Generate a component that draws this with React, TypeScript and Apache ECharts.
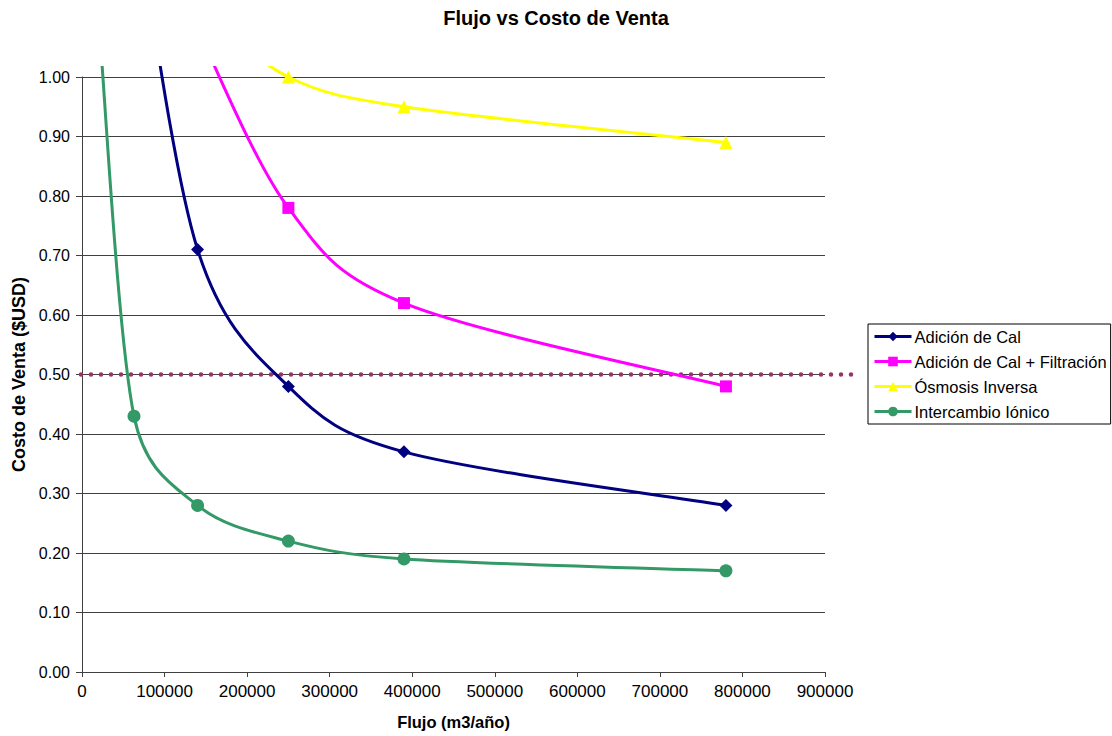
import React, { useEffect, useRef } from "react";
import * as echarts from "echarts";

// Flujo (m3/año) and costo de venta ($USD) for each treatment option
const calFlujo = [63000, 140000, 250000, 390000, 780000];
const calCosto = [1.3, 0.71, 0.48, 0.37, 0.28];

const filtFlujo = [140000, 250000, 390000, 780000];
const filtCosto = [1.08, 0.78, 0.62, 0.48];

const osmFlujo = [140000, 250000, 390000, 780000];
const osmCosto = [1.12, 1.0, 0.95, 0.89];

const ionFlujo = [20000, 63000, 140000, 250000, 390000, 780000];
const ionCosto = [1.1, 0.43, 0.28, 0.22, 0.19, 0.17];

// Reference price drawn as a dotted line
const precioReferencia = 0.5;

const seriesNames = [
  "Adición de Cal",
  "Adición de Cal + Filtración",
  "Ósmosis Inversa",
  "Intercambio Iónico",
];
const seriesColors = ["#000080", "#FF00FF", "#FFFF00", "#339966"];
const seriesSymbols = ["diamond", "rect", "triangle", "circle"];
const symbolSizes = [13, 12, 13, 13];

const FONT = "'Liberation Sans', Arial, Helvetica, sans-serif";

const pairs = (xs: number[], ys: number[]) => xs.map((x, i) => [x, ys[i]]);

// Control point leaving `p` towards `q`, tangent parallel to (next - prev),
// one sixth of its length, but never longer than half the segment p–q.
const controlPoint = (p: number[], q: number[], prev: number[], next: number[], sign: number) => {
  const vx = next[0] - prev[0];
  const vy = next[1] - prev[1];
  const vLen = Math.hypot(vx, vy);
  const seg = Math.hypot(q[0] - p[0], q[1] - p[1]);
  let f = 1 / 6;
  if (vLen > 0 && f * vLen > seg / 2) f = seg / 2 / vLen;
  return [p[0] + sign * vx * f, p[1] + sign * vy * f];
};

// Smoothed curve: one cubic segment per pair of consecutive points.
const smoothRenderer = (color: string) => (params: any, api: any) => {
  const i = params.dataIndexInside;
  const n = params.dataInsideLength;
  if (i >= n - 1) return null;
  const pt = (k: number) => {
    const kk = Math.max(0, Math.min(n - 1, k));
    return api.coord([api.value(0, kk), api.value(1, kk)]);
  };
  const p0 = pt(i - 1);
  const p1 = pt(i);
  const p2 = pt(i + 1);
  const p3 = pt(i + 2);
  const c1 = controlPoint(p1, p2, p0, p2, 1);
  const c2 = controlPoint(p2, p1, p1, p3, -1);
  return {
    type: "bezierCurve",
    silent: true,
    shape: {
      x1: p1[0],
      y1: p1[1],
      x2: p2[0],
      y2: p2[1],
      cpx1: c1[0],
      cpy1: c1[1],
      cpx2: c2[0],
      cpy2: c2[1],
    },
    style: { stroke: color, lineWidth: 3, fill: null },
  };
};

export default function App() {
  const ref = useRef<HTMLDivElement>(null);

  useEffect(() => {
    if (!ref.current) return;
    const chart = echarts.init(ref.current, undefined, { renderer: "svg" });

    const gridLeft = 82;
    const gridTop = 77;
    const gridRight = 287;
    const gridBottom = 64;

    const datasets = [
      pairs(calFlujo, calCosto),
      pairs(filtFlujo, filtCosto),
      pairs(osmFlujo, osmCosto),
      pairs(ionFlujo, ionCosto),
    ];

    const curves = datasets.map((data, k) => ({
      id: "curva" + k,
      type: "custom",
      coordinateSystem: "cartesian2d",
      data,
      encode: { x: 0, y: 1 },
      clip: false,
      silent: true,
      z: 2,
      renderItem: smoothRenderer(seriesColors[k]),
    }));

    const markers = datasets.map((data, k) => ({
      name: seriesNames[k],
      type: "line",
      data,
      clip: false,
      symbol: seriesSymbols[k],
      symbolSize: symbolSizes[k],
      showSymbol: true,
      itemStyle: { color: seriesColors[k] },
      lineStyle: { color: seriesColors[k], width: 3, opacity: 0 },
      z: 3,
    }));

    chart.setOption({
      animation: false,
      backgroundColor: "#ffffff",
      title: {
        text: "Flujo vs Costo de Venta",
        left: "center",
        top: 3,
        z: 10,
        textStyle: {
          fontFamily: FONT,
          fontWeight: "bold",
          fontSize: 20,
          color: "#000",
        },
      },
      legend: {
        orient: "vertical",
        left: 868,
        top: 324,
        padding: [4, 4, 4, 5],
        itemWidth: 37,
        itemHeight: 12,
        itemGap: 8,
        borderColor: "#000",
        borderWidth: 1,
        borderRadius: 0,
        backgroundColor: "#fff",
        data: seriesNames.map((name, k) => ({
          name,
          lineStyle: { color: seriesColors[k], width: 3, opacity: 1 },
        })),
        textStyle: { fontFamily: FONT, fontSize: 16.5, color: "#000", padding: [0, 0, 0, -2] },
      },
      grid: {
        left: gridLeft,
        top: gridTop,
        right: gridRight,
        bottom: gridBottom,
        containLabel: false,
      },
      xAxis: {
        type: "value",
        min: 0,
        max: 900000,
        interval: 100000,
        name: "Flujo (m3/año)",
        nameLocation: "middle",
        nameGap: 41,
        nameTextStyle: {
          fontFamily: FONT,
          fontWeight: "bold",
          fontSize: 16.5,
          color: "#000",
        },
        axisLine: { show: true, lineStyle: { color: "#404040", width: 1 } },
        axisTick: { show: true, length: 5, lineStyle: { color: "#404040" } },
        axisLabel: {
          fontFamily: FONT,
          fontSize: 17,
          color: "#000",
          margin: 11,
          formatter: (v: number) => String(v),
        },
        splitLine: { show: false },
      },
      yAxis: {
        type: "value",
        min: 0,
        max: 1,
        interval: 0.1,
        name: "Costo de Venta ($USD)",
        nameLocation: "middle",
        nameGap: 54,
        nameTextStyle: {
          fontFamily: FONT,
          fontWeight: "bold",
          fontSize: 18,
          color: "#000",
        },
        axisLine: { show: true, lineStyle: { color: "#404040", width: 1 } },
        axisTick: { show: true, length: 6, lineStyle: { color: "#404040" } },
        axisLabel: {
          fontFamily: FONT,
          fontSize: 16,
          color: "#000",
          margin: 12,
          formatter: (v: number) => v.toFixed(2),
        },
        splitLine: { show: true, lineStyle: { color: "#404040", width: 1 } },
      },
      series: [...curves, ...markers],
    });

    // Plot-area ceiling: curves are cut a little above the 1.00 gridline,
    // and the dotted reference price runs across the plot into the legend.
    const yRef = chart.convertToPixel({ yAxisIndex: 0 }, precioReferencia) as number;
    const xStart = (chart.convertToPixel({ xAxisIndex: 0 }, 0) as number) - 1;
    chart.setOption({
      graphic: [
        {
          id: "ceiling",
          type: "rect",
          z: 5,
          silent: true,
          shape: { x: 0, y: 0, width: 1112, height: gridTop - 11 },
          style: { fill: "#ffffff" },
        },
        {
          id: "precio",
          type: "line",
          z: 1,
          silent: true,
          shape: { x1: xStart, y1: yRef, x2: 857, y2: yRef },
          style: {
            stroke: "#993366",
            lineWidth: 4.5,
            lineDash: [0, 10],
            lineCap: "round",
          },
        },
      ],
    });

    return () => chart.dispose();
  }, []);

  return (
    <div
      ref={ref}
      style={{ position: "fixed", left: 0, top: 0, width: 1112, height: 736 }}
    />
  );
}
